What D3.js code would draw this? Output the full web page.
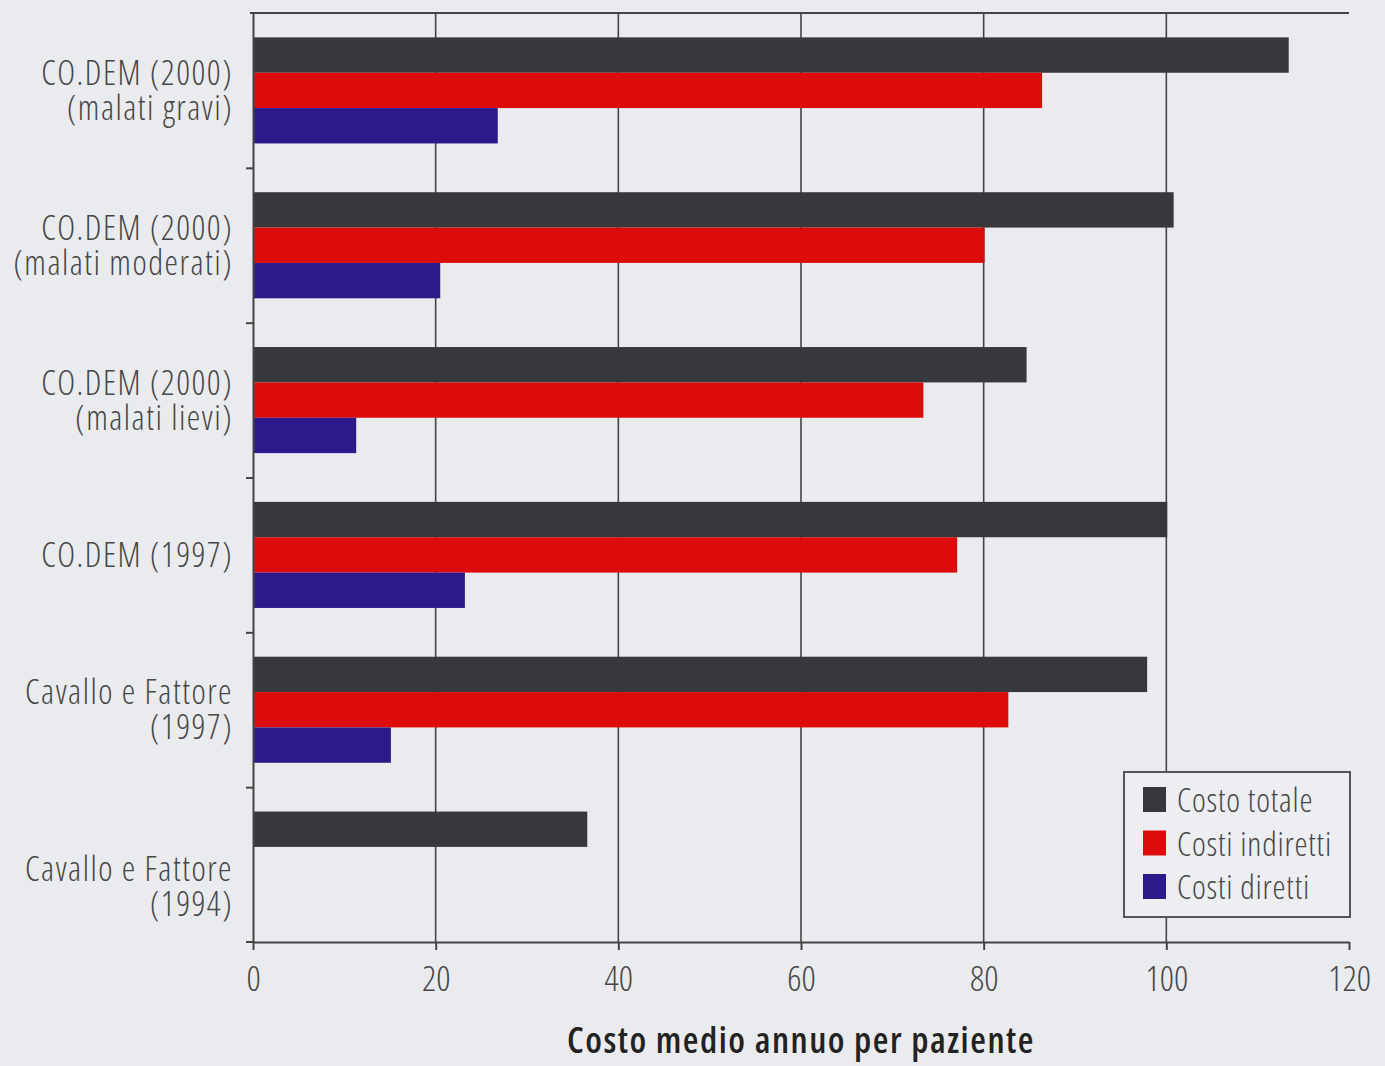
<!DOCTYPE html>
<html><head><meta charset="utf-8">
<script src="https://cdn.jsdelivr.net/npm/d3@7"></script>
<style>
body{margin:0;background:#e9ebee}
svg text{font-family:'Open Sans',sans-serif;font-stretch:75%;font-weight:300}
</style>
</head><body><svg id="c" width="1385" height="1066"></svg>
<script>
const categories = ["CO.DEM (2000)\n(malati gravi)","CO.DEM (2000)\n(malati moderati)","CO.DEM (2000)\n(malati lievi)","CO.DEM (1997)","Cavallo e Fattore\n(1997)","Cavallo e Fattore\n(1994)"];
const seriesNames = ["Costo totale","Costi indiretti","Costi diretti"];
const costoTotale = [113.4,100.8,84.7,100.1,97.9,36.6];
const costiIndiretti = [86.4,80.1,73.4,77.1,82.7,0];
const costiDiretti = [26.8,20.5,11.3,23.2,15.1,0];
const xTicks = [0,20,40,60,80,100,120];
const xTitle = "Costo medio annuo per paziente";
const colors = ["#36383c","#dd0c0c","#2c1a8a"];

const series = [costoTotale,costiIndiretti,costiDiretti];
const svg = d3.select("#c");
const L=253,R=1349,T=13,B=942;
const ink="#474747", lineCol="#444";

const x = d3.scaleLinear().domain([0,120]).range([L,R]);
const idx = d3.range(categories.length);
const y = d3.scaleBand().domain(idx).range([T,B]).paddingInner(0.315).paddingOuter(0.1575);
const ys = d3.scaleBand().domain(d3.range(series.length)).range([0,y.bandwidth()]);

// gridlines
svg.append("g").selectAll("line").data(xTicks.filter(t=>t>0&&t<120)).join("line")
  .attr("x1",d=>x(d)).attr("x2",d=>x(d)).attr("y1",T).attr("y2",B)
  .attr("stroke",lineCol).attr("stroke-width",1.6);

// bars
const g = svg.append("g");
idx.forEach(i=>{
  series.forEach((s,k)=>{
    if(s[i]>0) g.append("rect")
      .attr("x",x(0)).attr("y",y(i)+ys(k))
      .attr("width",x(s[i])-x(0)).attr("height",ys.bandwidth())
      .attr("fill",colors[k]);
  });
});

// top line
svg.append("line").attr("x1",250).attr("x2",R).attr("y1",T).attr("y2",T).attr("stroke",lineCol).attr("stroke-width",2);

// left axis with ticks at band boundaries
const yb = d3.scaleLinear().domain([0,categories.length]).range([T,B]);
const la = svg.append("g").attr("transform",`translate(${L},0)`)
  .call(d3.axisLeft(yb).tickValues(d3.range(1,categories.length)).tickFormat("").tickSize(7).tickSizeOuter(0));
la.select(".domain").attr("stroke",lineCol).attr("stroke-width",2);
la.selectAll(".tick line").attr("stroke",lineCol).attr("stroke-width",2);

// bottom axis
const ba = svg.append("g").attr("transform",`translate(0,${B})`)
  .call(d3.axisBottom(x).tickValues(xTicks).tickSize(8).tickSizeOuter(0).tickPadding(16));
ba.select(".domain").attr("stroke",lineCol).attr("stroke-width",2);
ba.selectAll(".tick line").attr("stroke",lineCol).attr("stroke-width",2);
ba.selectAll(".tick text").attr("font-size",35).attr("fill",ink).attr("font-family","'Open Sans',sans-serif");
svg.append("line").attr("x1",246).attr("x2",L).attr("y1",B).attr("y2",B).attr("stroke",lineCol).attr("stroke-width",2);

// category labels (each line its own text)
idx.forEach(i=>{
  const lines = categories[i].split("\n");
  const c = y(i)+y.bandwidth()/2 + (i===categories.length-1?22:0);
  lines.forEach((ln,j)=>{
    svg.append("text").attr("text-anchor","end").attr("font-size",34)
      .style("letter-spacing","1.5px").attr("fill",ink)
      .attr("x",233).attr("y",c+12+(j-(lines.length-1)/2)*35).text(ln);
  });
});

// x title
svg.append("text").attr("x",(L+R)/2).attr("y",1053).attr("text-anchor","middle")
  .attr("font-size",36).style("font-weight",600).style("letter-spacing","1.5px").attr("fill","#222").text(xTitle);

// legend
const lg = svg.append("g");
lg.append("rect").attr("x",1124).attr("y",772).attr("width",226).attr("height",145)
  .attr("fill","#eceef1").attr("stroke","#555").attr("stroke-width",2);
seriesNames.forEach((n,k)=>{
  const yy = 787+k*43.5;
  lg.append("rect").attr("x",1143).attr("y",yy).attr("width",23).attr("height",25).attr("fill",colors[k]);
  lg.append("text").attr("x",1177).attr("y",yy+25).attr("font-size",33).style("letter-spacing","0.8px").attr("fill",ink).text(n);
});
</script>
</body></html>
